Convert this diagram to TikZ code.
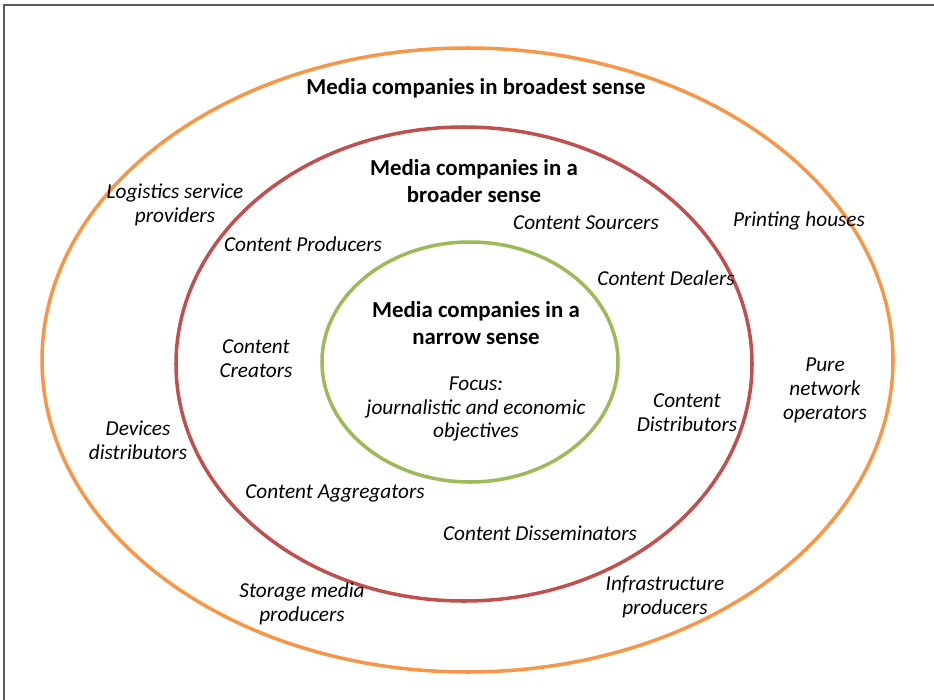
\documentclass[tikz,border=0pt]{standalone}
\usepackage{fontspec}
\setmainfont{Carlito}
\definecolor{ringorange}{HTML}{F79646}
\definecolor{ringred}{HTML}{C0504D}
\definecolor{ringgreen}{HTML}{9BBB59}
\definecolor{framegray}{HTML}{5A5A5A}
\begin{document}
\begin{tikzpicture}[x=0.02cm,y=-0.02cm,
    ringtitle/.style={font=\fontsize{13}{15.3}\selectfont\bfseries, align=center, inner sep=0pt},
    actor/.style={font=\fontsize{12.1}{13.6}\selectfont\itshape, align=center, inner sep=0pt}]
    \useasboundingbox (0,0) rectangle (934,700);

    % frame
    \draw[framegray, line width=1.2pt] (4,700) -- (4,5) -- (934,5);

    % rings
    \draw[ringorange, line width=2pt] (467.5,360) ellipse [x radius=425.5, y radius=312];
    \draw[ringred, line width=2pt] (464,364) ellipse [x radius=288, y radius=237];
    \draw[ringgreen, line width=2pt] (470,362) ellipse [x radius=148, y radius=120];

    % titles
    \node[ringtitle] (broadest) at (476,88) {Media companies in broadest sense};
    \node[ringtitle] (broader) at (474,181) {Media companies in a\\broader sense};
    \node[ringtitle] (narrow) at (476,323) {Media companies in a\\narrow sense};
    \node[actor] (focus) at (476,409) {Focus:\\journalistic and economic\\objectives};

    % broader sense
    \node[actor] (producers) at (303,244) {Content Producers};
    \node[actor] (sourcers) at (586,223) {Content Sourcers};
    \node[actor] (dealers) at (666,278) {Content Dealers};
    \node[actor] (creators) at (256,359) {Content\\Creators};
    \node[actor] (distributors) at (687,413) {Content\\Distributors};
    \node[actor] (aggregators) at (335,493) {Content Aggregators};
    \node[actor] (disseminators) at (540,533) {Content Disseminators};

    % broadest sense
    \node[actor] (logistics) at (175,205) {Logistics service\\providers};
    \node[actor] (printing) at (799,221) {Printing houses};
    \node[actor] (network) at (825,390) {Pure\\network\\operators};
    \node[actor] (devices) at (138,440) {Devices\\distributors};
    \node[actor] (storage) at (302,604) {Storage media\\producers};
    \node[actor] (infra) at (665,597) {Infrastructure\\producers};
\end{tikzpicture}
\end{document}
